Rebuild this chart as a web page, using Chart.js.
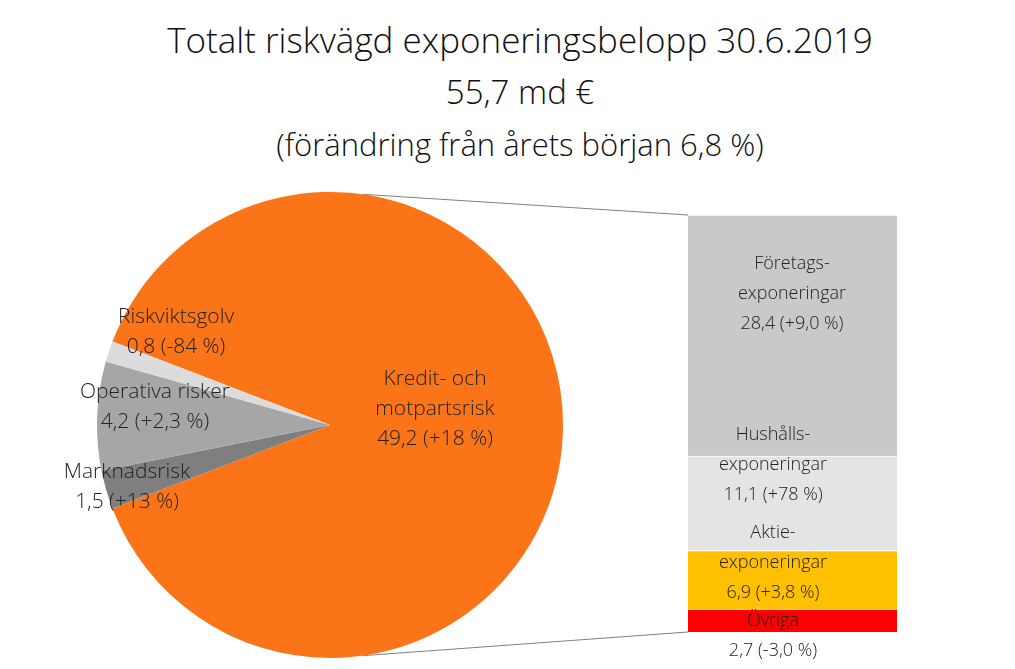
<!DOCTYPE html>
<html><head><meta charset="utf-8">
<script src="https://cdn.jsdelivr.net/npm/chart.js@4"></script>
<style>
body{margin:0;background:#fff;width:1015px;height:669px;position:relative;overflow:hidden;font-family:"Open Sans",sans-serif;}
#title{position:absolute;left:0;top:14px;width:1040px;text-align:center;color:#111;font-weight:300;}
#title div{line-height:52px;}
canvas{position:absolute;}
.lbl{position:absolute;text-align:center;color:#222;font-size:21px;line-height:30px;font-weight:300;white-space:nowrap;transform:translateX(-50%);}
.bl{font-size:18px;line-height:30px;}
</style></head><body>
<div id="title"><div style="font-size:35px">Totalt riskvägd exponeringsbelopp 30.6.2019</div><div style="font-size:33px">55,7 md €</div><div style="font-size:31px">(förändring från årets början 6,8 %)</div></div>
<canvas id="lines" width="1015" height="669" style="left:0;top:0"></canvas>
<div style="position:absolute;left:97px;top:192px;width:466px;height:466px"><canvas id="pie"></canvas></div>
<div style="position:absolute;left:688px;top:215px;width:209px;height:417px"><canvas id="bar"></canvas></div>
<div class="lbl" style="left:435px;top:362px">Kredit- och<br>motpartsrisk<br>49,2 (+18 %)</div>
<div class="lbl" style="left:176px;top:300px">Riskviktsgolv<br>0,8 (-84 %)</div>
<div class="lbl" style="left:155px;top:375px">Operativa risker<br>4,2 (+2,3 %)</div>
<div class="lbl" style="left:127px;top:455px">Marknadsrisk<br>1,5 (+13 %)</div>
<div class="lbl bl" style="left:792px;top:247px">Företags-<br>exponeringar<br>28,4 (+9,0 %)</div>
<div class="lbl bl" style="left:773px;top:418px">Hushålls-<br>exponeringar<br>11,1 (+78 %)</div>
<div class="lbl bl" style="left:773px;top:516px">Aktie-<br>exponeringar<br>6,9 (+3,8 %)</div>
<div class="lbl bl" style="left:773px;top:604px">Övriga<br>2,7 (-3,0 %)</div>
<script>
const pieLabels=["Kredit- och motpartsrisk","Marknadsrisk","Operativa risker","Riskviktsgolv"];
const pieValues=[49.2,1.5,4.2,0.8];
const pieColors=["#fb7418","#7f7f7f","#a6a6a6","#dcdcdc"];
const barLabels=["Övriga","Aktieexponeringar","Hushållsexponeringar","Företagsexponeringar"];
const barValues=[2.7,6.9,11.1,28.4];
const barColors=["#ff0000","#ffc000","#e4e4e4","#c9c9c9"];
const total=pieValues.reduce((a,b)=>a+b,0);
const restDeg=(total-pieValues[0])/total*360;
const bar=new Chart(document.getElementById('bar'),{type:'bar',
 data:{labels:["x"],datasets:barValues.map((v,i)=>({label:barLabels[i],data:[v],backgroundColor:barColors[i],borderColor:'#fff',borderWidth:{top:1},borderSkipped:false,barPercentage:1,categoryPercentage:1}))},
 options:{animation:false,responsive:true,maintainAspectRatio:false,plugins:{legend:{display:false},tooltip:{enabled:false}},
  layout:{padding:0},scales:{x:{display:false,stacked:true},y:{display:false,stacked:true,min:0,max:barValues.reduce((a,b)=>a+b,0)}}}});
const pie=new Chart(document.getElementById('pie'),{type:'pie',
 data:{labels:pieLabels,datasets:[{data:pieValues,backgroundColor:pieColors,borderWidth:0}]},
 options:{animation:false,responsive:true,maintainAspectRatio:false,rotation:270-restDeg/2-pieValues[0]/total*360,
  plugins:{legend:{display:false},tooltip:{enabled:false}}}});
const arc=pie.getDatasetMeta(0).data[0];
const cx=97+arc.x, cy=192+arc.y, r=arc.outerRadius;
const a=82*Math.PI/180;
const ctx=document.getElementById('lines').getContext('2d');
const bx=688+bar.chartArea.left, bt=215+bar.chartArea.top, bb=215+bar.chartArea.bottom;
ctx.strokeStyle='#7f7f7f';ctx.lineWidth=1;
ctx.beginPath();ctx.moveTo(cx+r*Math.cos(a),cy-r*Math.sin(a));ctx.lineTo(bx,bt);
ctx.moveTo(cx+r*Math.cos(a),cy+r*Math.sin(a));ctx.lineTo(bx,bb);ctx.stroke();
</script></body></html>
